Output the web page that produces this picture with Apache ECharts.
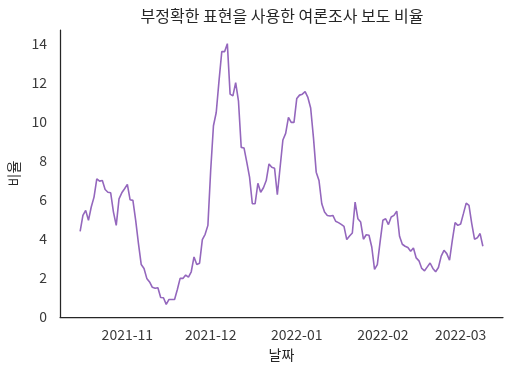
<!DOCTYPE html>
<html><head><meta charset="utf-8">
<script src="https://cdn.jsdelivr.net/npm/echarts@6/dist/echarts.min.js"></script>
<style>html,body{margin:0;padding:0;background:#fff}#c{width:514px;height:375px}</style>
</head><body><div id="c"></div>
<script>
const titleText = '부정확한 표현을 사용한 여론조사 보도 비율';
const xName = '날짜';
const yName = '비율';
const startDate = [2021, 10, 15];
const values = [
4.39,5.21,5.47,4.96,5.64,6.15,7.09,6.97,7.00,6.54,
6.40,6.37,5.38,4.70,6.06,6.37,6.58,6.80,6.01,5.98,
4.96,3.76,2.69,2.49,1.98,1.80,1.52,1.47,1.50,1.00,
0.99,0.65,0.90,0.90,0.90,1.41,1.98,1.98,2.15,2.04,
2.32,3.08,2.69,2.76,3.97,4.24,4.70,7.51,9.81,10.49,
12.11,13.61,13.61,14.02,11.43,11.34,12.02,11.09,8.70,8.67,
7.94,7.17,5.81,5.81,6.86,6.40,6.63,7.00,7.85,7.68,
7.63,6.27,7.68,9.08,9.42,10.24,9.98,9.98,11.21,11.38,
11.43,11.56,11.26,10.72,9.21,7.43,7.00,5.81,5.38,5.21,
5.18,5.21,4.91,4.84,4.75,4.65,3.97,4.15,4.31,5.89,
5.04,4.87,3.99,4.22,4.19,3.59,2.44,2.69,3.85,4.96,
5.04,4.74,5.13,5.21,5.43,4.14,3.73,3.63,3.56,3.37,
3.54,3.03,2.88,2.49,2.37,2.57,2.77,2.49,2.32,2.54,
3.12,3.42,3.25,2.91,3.93,4.84,4.70,4.77,5.30,5.84,
5.72,4.79,3.99,4.06,4.28,3.63
];
const monthTicks = [[2021,11,1],[2021,12,1],[2022,1,1],[2022,2,1],[2022,3,1]];
const yTicks = [0,2,4,6,8,10,12,14];

const DAY = 86400000;
const t0 = Date.UTC(startDate[0], startDate[1]-1, startDate[2]);
const data = values.map((v,i)=>[t0 + i*DAY, v]);
const tEnd = t0 + (values.length-1)*DAY;
const pad = (tEnd - t0)*0.05;
const monthTs = monthTicks.map(m=>Date.UTC(m[0], m[1]-1, m[2]));
const yMax = 14.72;
const textColor = '#262626';
const font = '"Noto Sans CJK KR", "Noto Sans", sans-serif';

const chart = echarts.init(document.getElementById('c'), null, {renderer:'canvas'});
chart.setOption({
  animation:false,
  backgroundColor:'#ffffff',
  textStyle:{fontFamily:font},
  grid:{left:60, right:11, top:30, bottom:58, containLabel:false, outerBoundsMode:'none'},
  graphic:[{type:'text', x:282, y:16, style:{text:titleText, fill:textColor, font:'16px '+font, textAlign:'center', textVerticalAlign:'middle'}}],
  xAxis:{
    type:'value', min:t0-pad, max:tEnd+pad, scale:true,
    name:xName, nameLocation:'middle', nameGap:31,
    nameTextStyle:{color:textColor, fontSize:14, fontFamily:font},
    axisLine:{show:true, lineStyle:{color:textColor, width:1.25}},
    axisTick:{show:false},
    splitLine:{show:false},
    axisLabel:{customValues:monthTs, color:'#3a3a3a', fontSize:14, margin:11, fontFamily:font,
      formatter:function(val){const d=new Date(val);return d.getUTCFullYear()+'-'+String(d.getUTCMonth()+1).padStart(2,'0');}}
  },
  yAxis:{
    type:'value', min:0, max:yMax,
    name:yName, nameLocation:'middle', nameGap:36,
    nameTextStyle:{color:textColor, fontSize:14, fontFamily:font},
    axisLine:{show:true, lineStyle:{color:textColor, width:1.25}},
    axisTick:{show:false},
    splitLine:{show:false},
    axisLabel:{customValues:yTicks, color:'#3a3a3a', fontSize:14, margin:13, fontFamily:font}
  },
  series:[{type:'line', data:data, showSymbol:false, symbol:'none',
    lineStyle:{color:'#9467bd', width:1.6}, itemStyle:{color:'#9467bd'}}]
});
</script></body></html>
